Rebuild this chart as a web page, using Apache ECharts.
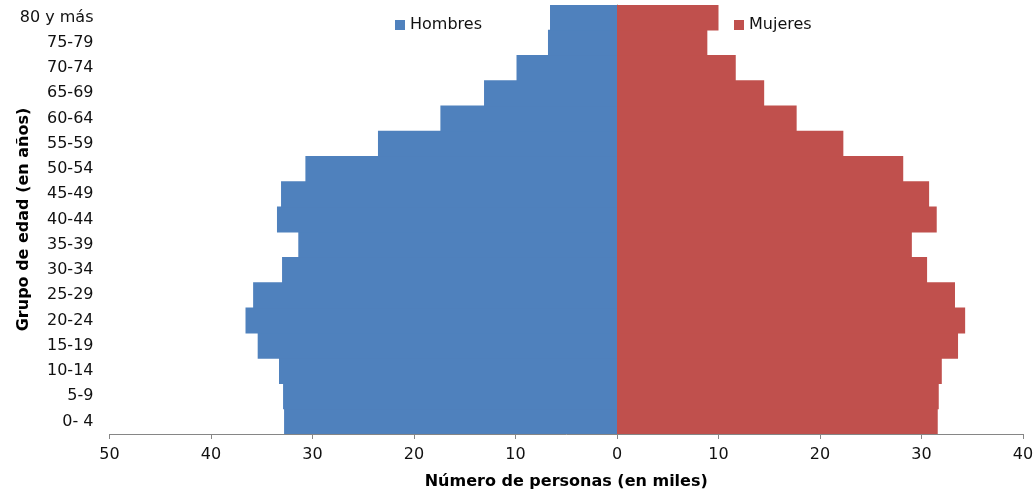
<!DOCTYPE html>
<html>
<head>
<meta charset="utf-8">
<script src="https://cdn.jsdelivr.net/npm/echarts@6/dist/echarts.min.js"></script>
<style>html,body{margin:0;padding:0;background:#fff;}#c{width:1036px;height:491px;}</style>
</head>
<body>
<div id="c"></div>
<script>
const categories = ['0- 4','5-9','10-14','15-19','20-24','25-29','30-34','35-39','40-44','45-49','50-54','55-59','60-64','65-69','70-74','75-79','80 y más'];
const hombres = [32.8, 32.9, 33.3, 35.4, 36.6, 35.85, 33.0, 31.4, 33.5, 33.1, 30.7, 23.55, 17.4, 13.1, 9.9, 6.8, 6.6];
const mujeres = [31.6, 31.7, 32.0, 33.6, 34.3, 33.3, 30.55, 29.05, 31.5, 30.75, 28.2, 22.3, 17.7, 14.5, 11.7, 8.9, 10.0];
const xTicks = { min: -50, max: 40, interval: 10 };

const chart = echarts.init(document.getElementById('c'), null, { renderer: 'canvas' });
const font = '"DejaVu Sans", Verdana, sans-serif';
chart.setOption({
  animation: false,
  textStyle: { fontFamily: font },
  grid: { left: 109.5, right: 13, top: 5, bottom: 57, containLabel: false, outerBoundsMode: 'none' },
  legend: [
    { data: ['Hombres'], left: 390, top: 12, icon: 'rect', itemWidth: 10, itemHeight: 10,
      textStyle: { fontFamily: font, fontSize: 16, color: '#111' } },
    { data: ['Mujeres'], left: 729, top: 12, icon: 'rect', itemWidth: 10, itemHeight: 10,
      textStyle: { fontFamily: font, fontSize: 16, color: '#111' } }
  ],
  xAxis: {
    type: 'value', min: xTicks.min, max: xTicks.max, interval: xTicks.interval,
    name: 'Número de personas (en miles)', nameLocation: 'middle', nameGap: 40,
    nameTextStyle: { fontFamily: font, fontSize: 16, fontWeight: 'bold', color: '#000' },
    axisLine: { show: true, onZero: false, lineStyle: { color: '#868686', width: 1 } },
    axisTick: { show: true, length: 5, lineStyle: { color: '#868686' } },
    axisLabel: { margin: 13, fontSize: 16, color: '#111', fontFamily: font, formatter: v => Math.abs(v) },
    splitLine: { show: false }
  },
  yAxis: [
    {
      type: 'category', data: categories, position: 'left',
      name: 'Grupo de edad (en años)', nameLocation: 'middle', nameGap: 78, nameRotate: 90,
      nameMoveOverlap: false,
      nameTextStyle: { fontFamily: font, fontSize: 16, fontWeight: 'bold', color: '#000' },
      axisLine: { show: false, onZero: false },
      axisTick: { show: false },
      axisLabel: { margin: 16, fontSize: 16, color: '#111', fontFamily: font }
    },
    {
      type: 'category', data: categories, position: 'left',
      axisLine: { show: true, onZero: true, lineStyle: { color: '#868686', width: 1 } },
      axisTick: { show: true, length: 5, lineStyle: { color: '#868686' } },
      axisLabel: { show: false }
    }
  ],
  series: [
    { name: 'Hombres', type: 'bar', yAxisIndex: 0, data: hombres.map(v => -v),
      barWidth: 26, barGap: '-100%', itemStyle: { color: '#4F81BD' } },
    { name: 'Mujeres', type: 'bar', yAxisIndex: 0, data: mujeres,
      barWidth: 26, barGap: '-100%', itemStyle: { color: '#C0504D' } }
  ]
});
</script>
</body>
</html>
